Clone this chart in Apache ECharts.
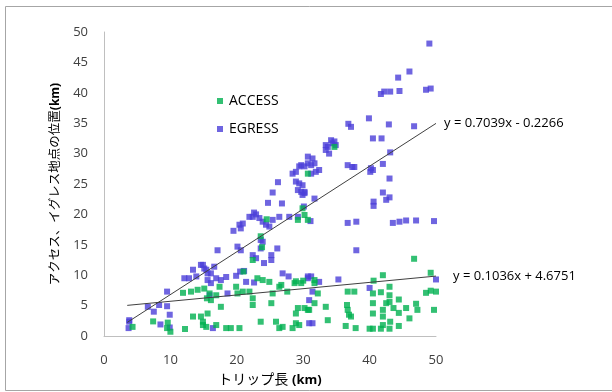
<!DOCTYPE html>
<html><head><meta charset="utf-8">
<script src="https://cdn.jsdelivr.net/npm/echarts@6/dist/echarts.min.js"></script>
<style>html,body{margin:0;padding:0;background:#fff}#c{width:612px;height:392px}</style>
</head><body><div id="c"></div>
<script>
var accessData = [
[4.3,1.5],[7.4,2.4],[9.6,2.2],[9.5,1.3],[10.0,0.7],[12.2,1.15],[11.9,7.1],[13.1,7.3],[14.1,7.6],[15.1,7.8],[13.4,3.2],[14.6,3.2],[14.9,1.8],[15.4,1.5],[15.6,3.7],[15.5,6.2],
[15.9,7.0],[16.9,6.7],[17.4,8.1],[16.1,5.9],[17.6,4.8],[14.9,2.35],[16.9,1.8],[18.4,1.3],[19.1,1.3],[20.4,1.3],[19.9,8.1],[20.1,7.0],[21.0,10.6],[20.9,7.3],[21.9,7.3],[22.4,6.2],[22.4,5.1],[23.1,9.5],[23.9,9.2],[24.9,8.9],[25.4,7.0],[25.2,5.4],[26.7,8.4],[26.4,8.1],[27.6,7.3],[28.7,8.7],[29.7,8.7],[28.9,9.0],[30.0,9.1],[29.2,4.6],[30.2,4.6],[28.9,3.7],[30.7,4.3],[23.6,2.35],[25.9,2.35],[26.4,1.3],[26.9,1.5],[28.4,1.3],[28.9,2.1],[29.4,1.8],[23.6,16.4],[23.8,14.6],[24.5,19.2],[29.2,19.1],[30.2,19.9],[30.7,19.1],[30.7,26.7],[22.4,12.5],
[34.7,31.1],[29.9,21.0],[46.7,12.7],[49.2,10.4],[31.7,9.2],[31.7,8.7],[40.6,9.1],[42.0,10.0],[43.0,8.1],[32.2,7.0],[31.7,5.4],[36.7,7.3],[37.7,7.3],[40.5,7.0],[41.7,7.2],[43.0,6.7],[43.0,5.6],[42.5,5.4],[44.4,6.0],[48.5,7.1],[49.2,7.45],[50.0,7.3],[40.5,5.4],[47.0,5.3],[47.2,4.3],[30.9,4.3],[33.4,4.8],[36.6,5.1],[36.7,4.3],[36.9,3.5],[37.2,3.2],[42.0,4.3],[42.0,3.2],[43.6,4.6],[44.4,3.8],[45.5,4.6],[46.0,2.9],[49.7,4.3],[43.1,2.35],[42.0,1.8],[44.4,1.65],[33.7,2.6],[36.4,1.65],[37.9,1.3],[40.0,1.2],[40.5,1.2],[41.7,1.2],[43.0,1.2],[40.5,3.7]
];
var egressData = [
[3.8,2.35],[3.8,2.6],[3.7,1.3],[6.6,4.8],[7.5,4.0],[8.3,5.1],[9.5,4.9],[9.5,7.3],[9.9,3.5],[8.5,1.9],[9.9,1.4],[12.1,9.5],[13.4,10.9],[14.6,11.7],[15.1,11.1],[15.6,10.3],[12.8,9.5],[13.9,9.8],[15.9,6.7],
[14.9,11.7],[15.4,10.9],[16.1,10.3],[16.6,11.4],[15.6,9.2],[16.9,9.5],[17.6,9.2],[18.4,9.7],[16.1,8.7],[16.4,1.3],[18.6,7.0],[19.9,9.9],[20.5,10.6],[21.1,10.7],[22.6,8.8],[21.4,8.9],[26.9,10.3],[27.8,9.8],[30.7,9.8],[30.9,2.1],[17.1,14.1],[20.1,14.7],[20.6,14.1],[22.4,13.3],[22.9,12.8],[23.6,14.4],[23.9,15.5],[23.6,15.8],[25.2,13.3],[25.2,12.5],[26.1,14.4],[24.1,12.0],[19.5,17.3],[20.4,18.3],[20.6,17.7],[20.9,18.5],[21.9,19.6],[22.6,20.3],[22.4,19.6],[22.9,20.0],[23.4,19.4],[23.9,18.8],[24.4,18.3],[24.9,18.0],[25.4,19.1],[26.4,19.6],[27.9,19.6],[29.2,19.6],[30.1,21.3],[24.7,21.9],[26.8,21.8],[25.4,23.6],[26.2,25.3],[28.9,25.4],[29.4,25.1],[29.2,24.0],[29.7,23.7],[30.2,23.5],[28.4,26.7],[28.9,27.0],[29.4,27.9],[29.7,28.1],[30.7,29.5],[30.7,28.4],
[33.7,31.1],[34.4,31.7],[34.9,31.4],[33.4,30.6],[33.9,30.0],[43.1,30.2],[31.4,29.2],[31.2,28.1],[31.7,28.4],[30.2,27.9],[31.2,26.7],[31.9,27.0],[32.4,27.3],[36.7,28.1],[37.4,27.8],[37.7,27.8],[40.2,27.6],[40.5,27.3],[40.1,27.0],[42.0,28.3],[43.0,25.9],[29.9,24.8],[30.2,23.7],[29.9,23.2],[31.7,22.6],[42.0,23.6],[43.0,22.8],[42.5,22.4],[40.6,22.1],[40.6,21.4],[31.1,18.9],[36.7,18.6],[38.0,18.8],[43.5,18.6],[44.5,18.8],[45.5,19.0],[47.0,19.0],[49.7,18.9],[38.0,14.1],[50.0,9.3],[30.7,9.5],[31.2,9.8],[32.4,8.9],[35.3,9.3],[40.0,7.9],[31.4,7.3],[30.9,5.9],[31.4,2.1],
[49.0,48.1],[46.0,43.5],[44.3,42.5],[41.7,39.8],[42.2,40.2],[43.1,40.2],[44.5,40.3],[48.5,40.5],[49.2,40.7],[36.8,34.9],[37.2,34.4],[39.9,35.8],[42.9,34.8],[46.7,34.5],[40.5,32.5],[41.8,32.5],[34.2,32.2],[34.7,32.0],[33.4,31.4]
];
var seriesNames = ['ACCESS', 'EGRESS'];
var trendAccess = {slope: 0.1036, intercept: 4.6751, label: 'y = 0.1036x + 4.6751'};
var trendEgress = {slope: 0.7039, intercept: -0.2266, label: 'y = 0.7039x - 0.2266'};
var trendRange = [3.5, 50];
var xTicks = [0, 10, 20, 30, 40, 50];
var yTicks = [0, 5, 10, 15, 20, 25, 30, 35, 40, 45, 50];
var xTitleMain = 'トリップ長 ';
var yTitleMain = 'アクセス、イグレス地点の位置';
var unitText = '(km)';

var FONT = '"Open Sans","Noto Sans CJK JP",sans-serif';
function trendLine(t) {
  return trendRange.map(function (x) { return [x, t.slope * x + t.intercept]; });
}
var chart = echarts.init(document.getElementById('c'), null, {renderer: 'canvas'});
chart.setOption({
  animation: false,
  backgroundColor: '#fff',
  textStyle: {fontFamily: FONT},
  grid: {left: 104, right: 176, top: 32, bottom: 56, containLabel: false},
  graphic: [{type: 'rect', shape: {x: 5.5, y: 6.5, width: 640, height: 384}, style: {fill: 'none', stroke: '#a6a6a6', lineWidth: 1}, silent: true}],
  legend: {
    orient: 'vertical', left: 212, top: 88,
    itemWidth: 6, itemHeight: 6, itemGap: 12,
    data: [{name: seriesNames[0], icon: 'rect'}, {name: seriesNames[1], icon: 'rect'}],
    textStyle: {fontSize: 14, color: '#000', fontFamily: FONT, lineHeight: 16, padding: [0, 0, 0, 1]}
  },
  xAxis: {
    type: 'value', min: 0, max: 50, interval: 10,
    name: '{a|' + xTitleMain + '}{b|' + unitText + '}', nameLocation: 'middle', nameGap: 37,
    nameTextStyle: {fontFamily: FONT, rich: {
      a: {fontSize: 14, color: '#000', fontFamily: FONT},
      b: {fontSize: 13, color: '#000', fontWeight: 'bold', fontFamily: FONT}}},
    axisLine: {show: true, lineStyle: {color: '#bfbfbf', width: 1}},
    axisTick: {show: false}, splitLine: {show: false},
    axisLabel: {fontSize: 13, color: '#404040', margin: 18}
  },
  yAxis: {
    type: 'value', min: 0, max: 50, interval: 5,
    name: '{a|' + yTitleMain + '}{b|' + unitText + '}', nameLocation: 'middle', nameGap: 42, nameRotate: 90,
    nameTextStyle: {fontFamily: FONT, rich: {
      a: {fontSize: 12.5, color: '#000', fontFamily: FONT},
      b: {fontSize: 12, color: '#000', fontWeight: 'bold', fontFamily: FONT}}},
    axisLine: {show: true, lineStyle: {color: '#bfbfbf', width: 1}},
    axisTick: {show: false}, splitLine: {show: false},
    axisLabel: {fontSize: 13, color: '#404040', margin: 16}
  },
  series: [
    {name: seriesNames[0], type: 'scatter', symbol: 'rect', symbolSize: 6, data: accessData, itemStyle: {color: '#00B050'}, z: 3},
    {name: seriesNames[1], type: 'scatter', symbol: 'rect', symbolSize: 6, data: egressData, itemStyle: {color: '#4B3ED8'}, z: 2},
    {type: 'line', data: trendLine(trendEgress), symbol: 'none', lineStyle: {color: '#404040', width: 1}, z: 4,
     endLabel: {show: true, formatter: trendEgress.label, color: '#000', fontSize: 13, distance: 8, fontFamily: FONT}},
    {type: 'line', data: trendLine(trendAccess), symbol: 'none', lineStyle: {color: '#404040', width: 1}, z: 4,
     endLabel: {show: true, formatter: trendAccess.label, color: '#000', fontSize: 13, distance: 17, fontFamily: FONT}}
  ]
});
</script></body></html>
